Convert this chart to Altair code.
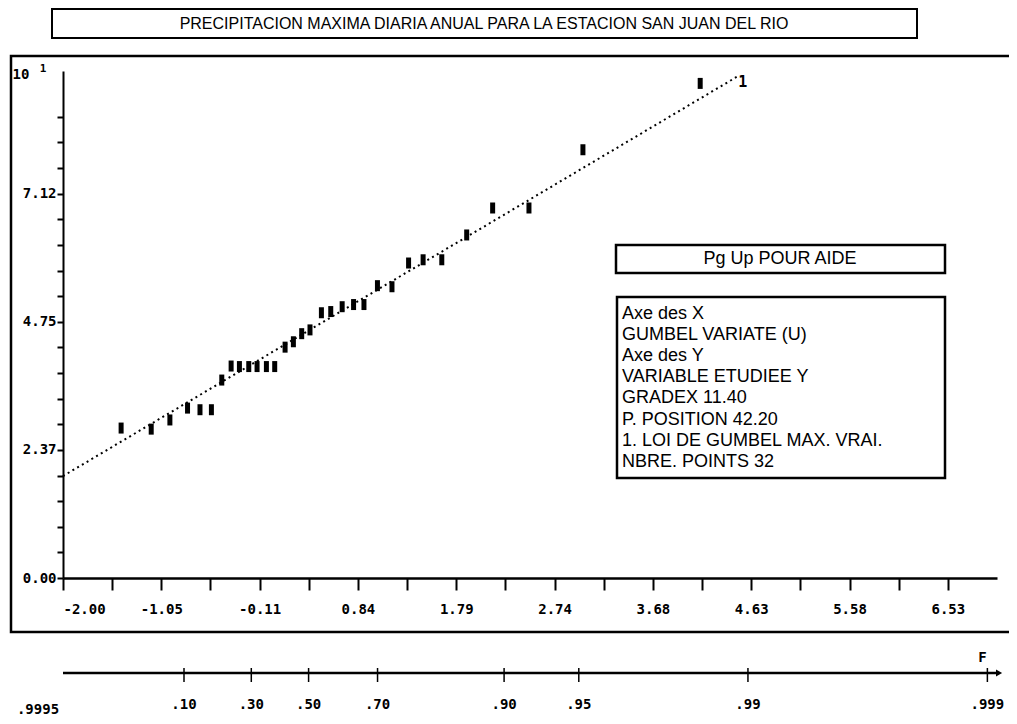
import math
import altair as alt
import pandas as pd

# ---- data -----------------------------------------------------------------
# Gumbel reduced variate U of each plotted point and observed value Y (x10)
u_obs = [-1.44, -1.15, -0.97, -0.80, -0.68, -0.57, -0.47, -0.38, -0.30, -0.21,
         -0.13, -0.04, 0.04, 0.14, 0.22, 0.30, 0.38, 0.49, 0.58, 0.69,
         0.80, 0.90, 1.03, 1.17, 1.33, 1.47, 1.65, 1.89, 2.14, 2.49,
         3.01, 4.14]
y_obs = [2.78, 2.76, 2.93, 3.15, 3.12, 3.12, 3.67, 3.93, 3.92, 3.92,
         3.92, 3.92, 3.92, 4.28, 4.38, 4.53, 4.60, 4.92, 4.94, 5.03,
         5.07, 5.07, 5.42, 5.40, 5.84, 5.90, 5.90, 6.36, 6.86, 6.86,
         7.94, 9.17]

# fitted Gumbel line (law 1) end points
u_fit = [-2.0, 4.50]
y_fit = [1.89, 9.30]

# axis ticks and labels
x_tick_values = [-2 + k * 9 / 19 for k in range(19)]
x_label_values = [-2 + k * 18 / 19 for k in range(10)]
x_label_texts = ["-2.00", "-1.05", "-0.11", "0.84", "1.79", "2.74", "3.68", "4.63", "5.58", "6.53"]

y_tick_values = [k * 0.475 for k in range(19)]
y_label_values = [0.0, 2.375, 4.75, 7.125]
y_label_texts = ["0.00", "2.37", "4.75", "7.12"]

prob_values = [0.10, 0.30, 0.50, 0.70, 0.90, 0.95, 0.99, 0.999]
prob_labels = [".10", ".30", ".50", ".70", ".90", ".95", ".99", ".999"]

title_text = "PRECIPITACION MAXIMA DIARIA ANUAL PARA LA ESTACION SAN JUAN DEL RIO"
help_text = "Pg Up POUR AIDE"
info_lines = ["Axe des X", "GUMBEL VARIATE (U)", "Axe des Y", "VARIABLE ETUDIEE Y",
              "GRADEX 11.40", "P. POSITION 42.20", "1. LOI DE GUMBEL MAX. VRAI.",
              "NBRE. POINTS 32"]

# ---- tables ------------------------------------------------------------------
pts = pd.DataFrame({"u": u_obs, "y": y_obs})
fit = pd.DataFrame({"u": u_fit, "y": y_fit})
prob = pd.DataFrame({
    "u": [-math.log(-math.log(p)) for p in prob_values],
    "label": prob_labels,
})
one = pd.DataFrame({"a": [0]})

MONO = "DejaVu Sans Mono"
SANS = "Liberation Sans"


def label_expr(values, texts):
    expr = "''"
    for v, t in reversed(list(zip(values, texts))):
        expr = f"abs(datum.value - ({v})) < 0.01 ? '{t}' : ({expr})"
    return expr


xs = alt.Scale(domain=[-2, 7], nice=False, zero=False)
ys = alt.Scale(domain=[0, 9.4], nice=False, zero=False)

x_axis = alt.Axis(values=x_tick_values, labelExpr=label_expr(x_label_values, x_label_texts),
                  tickCount=100, tickSize=12, tickWidth=2, tickColor="black",
                  domainColor="black", domainWidth=2.5, grid=False, labelFont=MONO,
                  labelFontWeight="bold", labelFontSize=14, labelColor="black",
                  labelPadding=12, labelBaseline="top", labelOverlap=False, title=None)
y_axis = alt.Axis(values=y_tick_values, labelExpr=label_expr(y_label_values, y_label_texts),
                  tickCount=100, tickSize=6, tickWidth=2, tickColor="black",
                  domainColor="black", domainWidth=2, grid=False, labelFont=MONO,
                  labelFontWeight="bold", labelFontSize=14, labelColor="black",
                  labelPadding=1, labelOverlap=False, title=None)

points = alt.Chart(pts).mark_tick(orient="vertical", thickness=5, size=11, color="black",
                                  opacity=1).encode(
    x=alt.X("u:Q", scale=xs, axis=x_axis, title=None),
    y=alt.Y("y:Q", scale=ys, axis=y_axis, title=None),
)

fit_line = alt.Chart(fit).mark_line(color="black", strokeWidth=2, strokeDash=[2, 3.5]).encode(
    x=alt.X("u:Q", title=None), y=alt.Y("y:Q", title=None)
)

curve_label = alt.Chart(one).mark_text(text="1", font=MONO, fontWeight="bold", fontSize=15,
                                       color="black").encode(
    x=alt.datum(4.55), y=alt.datum(9.2)
)

# frame around the plot
frame = alt.Chart(one).mark_rect(fillOpacity=0, stroke="black", strokeWidth=2.5).encode(
    x=alt.value(-52), x2=alt.value(960), y=alt.value(-15), y2=alt.value(561)
)

# title box
title_box = alt.Chart(one).mark_rect(fill="white", stroke="black", strokeWidth=2).encode(
    x=alt.value(-11), x2=alt.value(854), y=alt.value(-62), y2=alt.value(-33)
)
title = alt.Chart(one).mark_text(text=title_text, font=SANS, fontSize=16, color="black").encode(
    x=alt.value(421), y=alt.value(-47)
)

# exponent marker at top of Y axis
ten = alt.Chart(one).mark_text(text="10", font=MONO, fontWeight="bold", fontSize=14,
                               color="black").encode(x=alt.value(-42), y=alt.value(4))
ten_exp = alt.Chart(one).mark_text(text="1", font=MONO, fontWeight="bold", fontSize=11,
                                   color="black").encode(x=alt.value(-20), y=alt.value(-2))

# help box and info box
help_box = alt.Chart(one).mark_rect(fill="white", stroke="black", strokeWidth=2.5).encode(
    x=alt.value(553), x2=alt.value(882), y=alt.value(174), y2=alt.value(202)
)
help_lbl = alt.Chart(one).mark_text(text=help_text, font=SANS, fontSize=18, color="black").encode(
    x=alt.value(717), y=alt.value(188)
)
info_box = alt.Chart(one).mark_rect(fill="white", stroke="black", strokeWidth=2.5).encode(
    x=alt.value(554), x2=alt.value(882), y=alt.value(226), y2=alt.value(407)
)
info_lbl = alt.Chart(one).mark_text(text=info_lines, font=SANS, fontSize=18, color="black",
                                    align="left", baseline="middle", lineHeight=21.1).encode(
    x=alt.value(559), y=alt.value(243)
)

# probability (F) scale below the plot
prob_line = alt.Chart(one).mark_rule(color="black", strokeWidth=2.5).encode(
    x=alt.datum(-2), x2=alt.datum(7.0), y=alt.value(602)
)
prob_arrow = alt.Chart(one).mark_point(shape="triangle-right", filled=True, size=50,
                                       color="black", opacity=1).encode(
    x=alt.datum(7.02), y=alt.value(602)
)
prob_ticks = alt.Chart(prob).mark_rule(color="black", strokeWidth=1.5).encode(
    x=alt.X("u:Q", title=None), y=alt.value(597), y2=alt.value(611)
)
prob_text = alt.Chart(prob).mark_text(font=MONO, fontWeight="bold", fontSize=14,
                                      color="black").encode(
    x=alt.X("u:Q", title=None), y=alt.value(634), text="label:N"
)
left_lbl = alt.Chart(one).mark_text(text=".9995", font=MONO, fontWeight="bold", fontSize=14,
                                    color="black").encode(x=alt.value(-25), y=alt.value(639))
f_lbl = alt.Chart(one).mark_text(text="F", font=MONO, fontWeight="bold", fontSize=14,
                                 color="black").encode(x=alt.datum(6.86), y=alt.value(587))

chart = alt.layer(
    frame, title_box, title, points, fit_line, curve_label, ten, ten_exp,
    help_box, help_lbl, info_box, info_lbl,
    prob_line, prob_arrow, prob_ticks, prob_text, left_lbl, f_lbl,
).properties(
    width=934, height=507,
    autosize=alt.AutoSizeParams(type="none"),
    padding={"left": 55, "top": 63, "right": 12, "bottom": 138},
    background="white",
).configure_view(strokeWidth=0).configure_axis(labelOverlap=False)

chart.save("out.html", embed_options={"renderer": "svg", "actions": False})
